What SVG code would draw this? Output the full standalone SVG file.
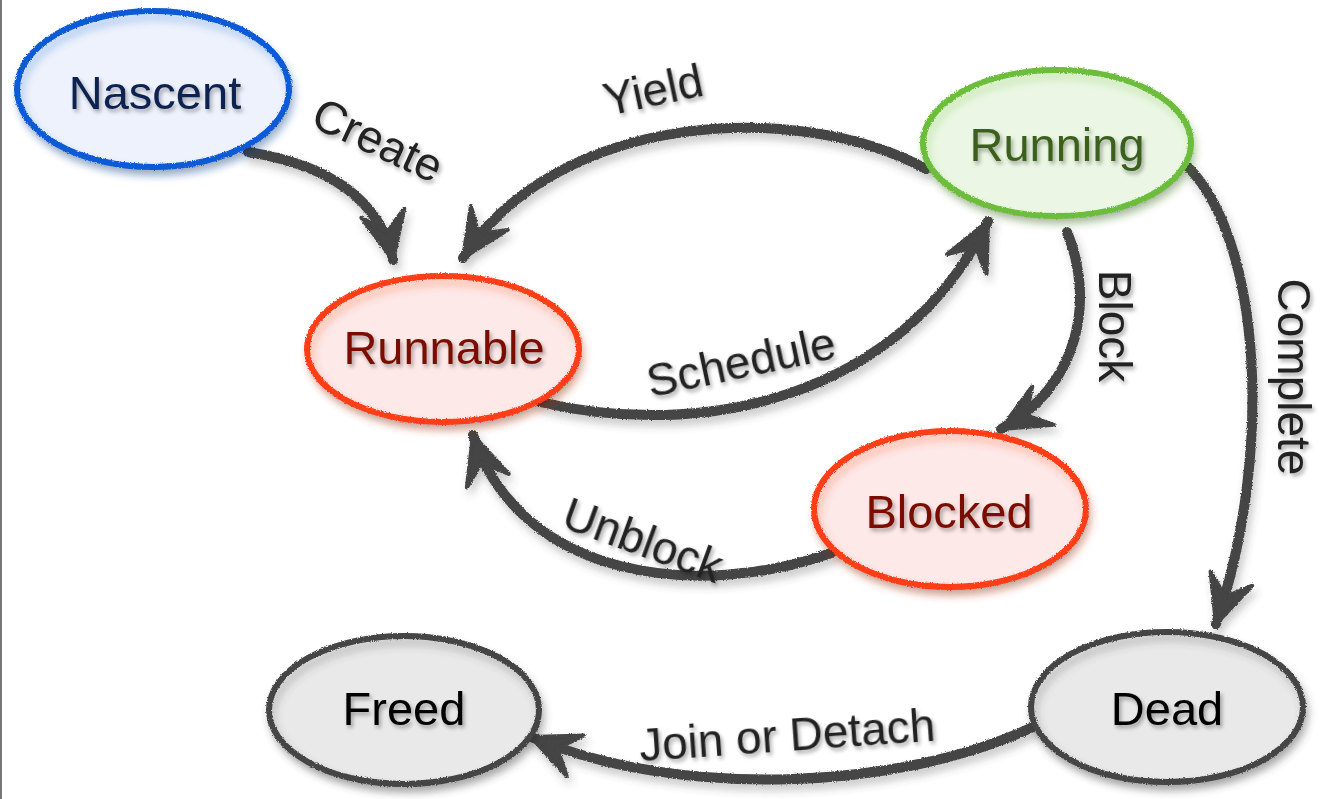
<svg xmlns="http://www.w3.org/2000/svg" width="1325" height="799" viewBox="0 0 1325 799">
<defs>
<style>
.fillN{fill:#eef2fc}.strN{fill:none;stroke:#0a5ad6;stroke-width:6}
.fillG{fill:#ebf7e4}.strG{fill:none;stroke:#6cbd3a;stroke-width:6}
.fillR{fill:#fde9e8}.strR{fill:none;stroke:#ff3c12;stroke-width:6}
.fillK{fill:#e9e9e9}.strK{fill:none;stroke:#444;stroke-width:6}
.nt{font-family:"Liberation Sans",Arial,sans-serif;font-size:47px;text-anchor:middle;dominant-baseline:central}
.lt{font-family:"Liberation Sans",Arial,sans-serif;font-size:46px;fill:#222;text-anchor:middle;dominant-baseline:central}
.edge{fill:none;stroke:#444;stroke-width:10;stroke-linecap:round;marker-end:url(#ah)}
</style>
<filter id="shadow" filterUnits="userSpaceOnUse" x="0" y="0" width="1325" height="799">
<feGaussianBlur in="SourceAlpha" stdDeviation="4"/>
<feOffset dx="2" dy="6" result="o"/>
<feComponentTransfer><feFuncA type="linear" slope="0.35"/></feComponentTransfer>
<feMerge><feMergeNode/><feMergeNode in="SourceGraphic"/></feMerge>
</filter>
<filter id="tshadow" filterUnits="userSpaceOnUse" x="0" y="0" width="1325" height="799">
<feGaussianBlur in="SourceAlpha" stdDeviation="2"/>
<feOffset dx="2" dy="3"/>
<feComponentTransfer><feFuncA type="linear" slope="0.35"/></feComponentTransfer>
<feMerge><feMergeNode/><feMergeNode in="SourceGraphic"/></feMerge>
</filter>
<filter id="chalk" filterUnits="userSpaceOnUse" x="0" y="0" width="1325" height="799">
<feTurbulence type="fractalNoise" baseFrequency="0.8" numOctaves="2" seed="3" result="n"/>
<feDisplacementMap in="SourceGraphic" in2="n" scale="3" xChannelSelector="R" yChannelSelector="G" result="d"/>
<feGaussianBlur in="d" stdDeviation="4" result="b"/>
<feOffset in="b" dx="3" dy="6" result="o"/>
<feComponentTransfer in="o" result="s"><feFuncA type="linear" slope="0.3"/></feComponentTransfer>
<feMerge><feMergeNode in="s"/><feMergeNode in="d"/></feMerge>
</filter>
<marker id="ah" markerUnits="userSpaceOnUse" markerWidth="60" markerHeight="56" viewBox="0 0 60 56" refX="54" refY="28" orient="auto">
<path d="M54,28 L6,6 Q16,18 26,28 Q16,38 6,50 Z" fill="#444" stroke="#444" stroke-width="4" stroke-linejoin="round"/>
</marker>
</defs>
<rect x="0" y="0" width="1325" height="799" fill="#fff"/>
<rect x="0" y="0" width="2" height="799" fill="#777"/>

<g id="connectors" filter="url(#chalk)">
<path id="e-create" class="edge" d="M248,152 C330,165 380,200 393,260"/>
<path id="e-yield" class="edge" d="M926,169 C800,100 560,110 463,258"/>
<path id="e-schedule" class="edge" d="M540,402 C700,440 900,400 988,221"/>
<path id="e-block" class="edge" d="M1067,232 C1095,300 1080,385 1001,429"/>
<path id="e-complete" class="edge" d="M1188,167 C1260,240 1275,450 1216,624"/>
<path id="e-unblock" class="edge" d="M831,553 C700,600 520,580 473,435"/>
<path id="e-join" class="edge" d="M1033,727 C900,790 680,800 531,737"/>
</g>

<g id="labels" filter="url(#tshadow)">
<text class="lt" transform="translate(378,140) rotate(25)">Create</text>
<text class="lt" transform="translate(653,90) rotate(-12)">Yield</text>
<text class="lt" transform="translate(741,362) rotate(-12)">Schedule</text>
<text class="lt" transform="translate(1115,326) rotate(90)">Block</text>
<text class="lt" transform="translate(1294,377) rotate(90)">Complete</text>
<text class="lt" transform="translate(643,540) rotate(20)">Unblock</text>
<text class="lt" transform="translate(787,735) rotate(-4)">Join or Detach</text>
</g>

<g id="node-nascent">
<ellipse class="fillN" cx="153" cy="89" rx="136" ry="78" filter="url(#shadow)"/>
<ellipse class="strN" cx="153" cy="89" rx="136" ry="78" filter="url(#chalk)"/>
<text class="nt" x="155" y="92" fill="#0b2150" filter="url(#tshadow)">Nascent</text>
</g>
<g id="node-running">
<ellipse class="fillG" cx="1057" cy="143" rx="134" ry="73" filter="url(#shadow)"/>
<ellipse class="strG" cx="1057" cy="143" rx="134" ry="73" filter="url(#chalk)"/>
<text class="nt" x="1057" y="144" fill="#3a5f1a" filter="url(#tshadow)">Running</text>
</g>
<g id="node-runnable">
<ellipse class="fillR" cx="443" cy="349" rx="136" ry="73" filter="url(#shadow)"/>
<ellipse class="strR" cx="443" cy="349" rx="136" ry="73" filter="url(#chalk)"/>
<text class="nt" x="444" y="347" fill="#7a1000" filter="url(#tshadow)">Runnable</text>
</g>
<g id="node-blocked">
<ellipse class="fillR" cx="950" cy="509" rx="136" ry="78" filter="url(#shadow)"/>
<ellipse class="strR" cx="950" cy="509" rx="136" ry="78" filter="url(#chalk)"/>
<text class="nt" x="949" y="511" fill="#7a1000" filter="url(#tshadow)">Blocked</text>
</g>
<g id="node-freed">
<ellipse class="fillK" cx="404" cy="710" rx="135" ry="74" filter="url(#shadow)"/>
<ellipse class="strK" cx="404" cy="710" rx="135" ry="74" filter="url(#chalk)"/>
<text class="nt" x="404" y="708" fill="#000" filter="url(#tshadow)">Freed</text>
</g>
<g id="node-dead">
<ellipse class="fillK" cx="1167" cy="707" rx="136" ry="75" filter="url(#shadow)"/>
<ellipse class="strK" cx="1167" cy="707" rx="136" ry="75" filter="url(#chalk)"/>
<text class="nt" x="1167" y="708" fill="#000" filter="url(#tshadow)">Dead</text>
</g>
</svg>
